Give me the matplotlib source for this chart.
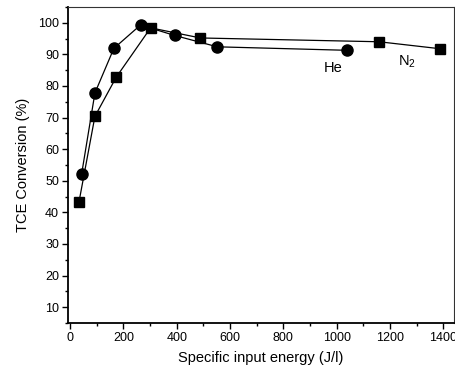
import matplotlib
matplotlib.use("Agg")
import matplotlib.pyplot as plt
from matplotlib.ticker import MultipleLocator

he_x = [43, 93, 164, 264, 392, 552, 1037]
he_y = [52.1, 77.8, 91.9, 99.3, 96.0, 92.4, 91.3]
n2_x = [33, 93, 173, 302, 489, 1159, 1387]
n2_y = [43.2, 70.4, 82.8, 98.4, 95.2, 94.0, 91.8]

plt.rcParams['font.family'] = ['Liberation Sans', 'DejaVu Sans']
plt.rcParams['mathtext.fontset'] = 'custom'
plt.rcParams['mathtext.rm'] = 'Liberation Sans'
plt.rcParams['mathtext.it'] = 'Liberation Sans:italic'

fig = plt.figure(figsize=(4.55, 3.74), dpi=100)
ax = fig.add_axes([68/455, 1-323/374, (454-68)/455, (323-7)/374])

ax.plot(he_x, he_y, color='black', lw=0.9, marker='o', ms=8, mfc='black', mec='black')
ax.plot(n2_x, n2_y, color='black', lw=0.9, marker='s', ms=6.5, mfc='black', mec='black')

ax.text(988, 85.7, 'He', fontsize=10.5, ha='center', va='center')
ax.text(1264, 87.6, 'N$_\\mathrm{2}$', fontsize=10.5, ha='center', va='center')

ax.set_xlim(-8, 1440)
ax.set_ylim(5, 105)
ax.xaxis.set_major_locator(MultipleLocator(200))
ax.xaxis.set_minor_locator(MultipleLocator(100))
ax.yaxis.set_major_locator(MultipleLocator(10))
ax.yaxis.set_minor_locator(MultipleLocator(5))
ax.set_yticks(range(10, 101, 10))
ax.tick_params(which='major', direction='out', length=4, width=1, labelsize=9, pad=2.5)
ax.tick_params(which='minor', direction='out', length=2.5, width=1)
for s in ['left', 'bottom']:
    ax.spines[s].set_linewidth(1.3)
for s in ['top', 'right']:
    ax.spines[s].set_linewidth(0.8)
    ax.spines[s].set_color('#333333')

ax.set_xlabel('Specific input energy (J/l)', fontsize=10.5, labelpad=5)
ax.set_ylabel('TCE Conversion (%)', fontsize=10.5, labelpad=6)

fig.savefig('out.png', dpi=100)
